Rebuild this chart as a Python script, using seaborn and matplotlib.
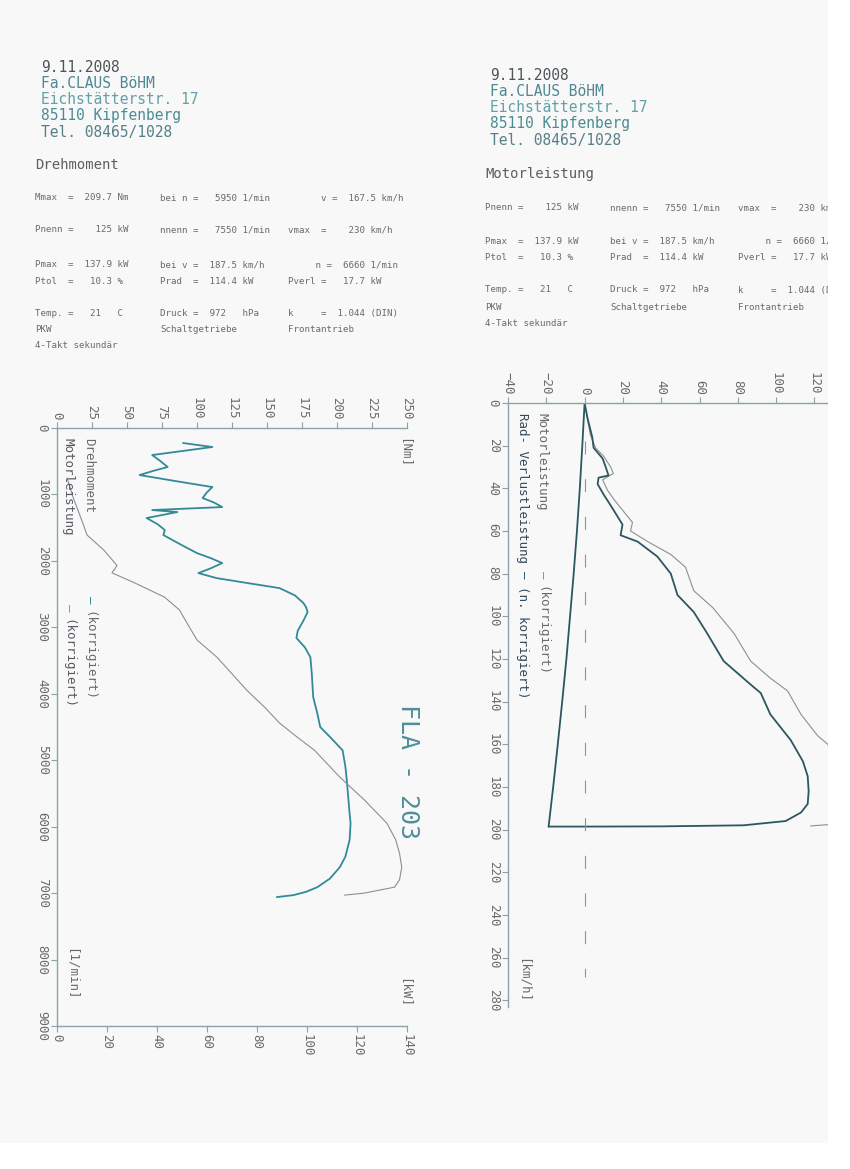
import matplotlib
matplotlib.use("Agg")
import matplotlib.pyplot as plt
import seaborn as sns
from matplotlib.patches import Rectangle

# ---------------- data: left chart (Drehmoment / Motorleistung vs rpm) ----------------
torque_rpm = [226, 286, 407, 500, 587, 650, 708, 800, 889, 970, 1054, 1120, 1190, 1235, 1265,
              1355, 1450, 1536, 1611, 1750, 1883, 1960, 2033, 2110, 2184, 2259, 2330, 2410,
              2520, 2635, 2700, 2770, 2900, 3050, 3160, 3300, 3450, 3700, 4050, 4300, 4500,
              4650, 4850, 5100, 5300, 5550, 5800, 5950, 6200, 6450, 6610, 6780, 6910, 6980,
              7030, 7060]
torque_nm = [90, 111, 68, 74, 79, 68, 59, 85, 111, 107, 104, 112, 118, 68, 86,
             64, 72, 77, 76, 88, 100, 110, 118, 110, 101, 114, 135, 159,
             170, 176, 178, 179, 176, 172, 171, 177, 181, 182, 183, 186, 188,
             195, 204, 206, 207, 208, 209, 209.7, 209, 206, 202, 195, 186, 178,
             169, 157]

power_rpm = [750, 1050, 1280, 1450, 1610, 1840, 2070, 2180, 2330, 2545, 2740, 3000, 3190,
             3450, 3700, 3950, 4200, 4440, 4650, 4850, 5050, 5250, 5600, 5950, 6200, 6400,
             6610, 6800, 6910, 7000, 7030]
power_kw = [4, 6.5, 8.8, 10.5, 12, 18.8, 24, 22, 31, 43, 49, 53, 56,
            64, 70, 76, 83, 89, 96, 103, 108, 113, 123, 132, 135.5, 137,
            137.9, 137, 135, 123, 115]

nm_ticks = [0, 25, 50, 75, 100, 125, 150, 175, 200, 225, 250]
rpm_ticks = [0, 1000, 2000, 3000, 4000, 5000, 6000, 7000, 8000, 9000]
kw_ticks_left = [0, 20, 40, 60, 80, 100, 120, 140]

# ---------------- data: right chart (power vs speed) ----------------
rad_kmh = [0, 7, 16, 21, 26, 30, 34, 35, 38, 43, 48, 57, 62, 65, 72, 80, 90, 98, 108, 121,
           132, 136, 146, 158, 168, 175, 182, 188, 192, 196, 198, 198.5, 198.6, 198.6]
rad_kw = [0, 1.5, 4, 4.7, 9.4, 11, 12.5, 7.3, 6.8, 10, 13.6, 19.8, 18.8, 27.7, 38, 45, 48.5,
          57, 64, 72.6, 86.7, 92, 97, 107.6, 114, 116.5, 117, 116.5, 113, 105, 83, 40, 0, -18.8]

loss_kmh = [198.6, 180, 160, 140, 120, 100, 80, 60, 40, 20, 5, 0]
loss_kw = [-18.8, -16.4, -14.0, -11.7, -9.5, -7.6, -5.7, -4.0, -2.5, -1.2, -0.3, 0]

motor_kmh = [0, 15, 21, 25, 30, 33, 36, 41, 46, 56, 60, 65, 71, 77, 88, 96, 108, 121, 129,
             135, 146, 156, 160, 170, 180, 187.5, 194, 197.5, 198.3]
motor_kw = [0, 3, 5.7, 10, 13.6, 15, 9.4, 12, 16, 25, 24, 33, 45, 52.7, 57, 67, 78, 86.7, 97,
            106, 113, 121.7, 127, 133, 137, 137.9, 136, 130, 118]

zero_line_kmh = [18, 269]
kw_ticks_right = [-40, -20, 0, 20, 40, 60, 80, 100, 120]
kmh_ticks = [0, 20, 40, 60, 80, 100, 120, 140, 160, 180, 200, 220, 240, 260, 280]

# ---------------- text ----------------
header_lines = ["9.11.2008", "Fa.CLAUS BöHM", "Eichstätterstr. 17", "85110 Kipfenberg",
                "Tel. 08465/1028"]
header_colors = ["#4c5558", "#4f8892", "#63a0a8", "#4a8c95", "#557f88"]

left_col1 = ["Mmax  =  209.7 Nm", "Pnenn =    125 kW", "Pmax  =  137.9 kW", "Ptol  =   10.3 %",
             "Temp. =   21   C", "PKW", "4-Takt sekundär"]
left_col2 = ["bei n =   5950 1/min", "nnenn =   7550 1/min", "bei v =  187.5 km/h",
             "Prad  =  114.4 kW", "Druck =  972   hPa", "Schaltgetriebe", ""]
left_col3 = ["      v =  167.5 km/h", "vmax  =    230 km/h", "     n =  6660 1/min",
             "Pverl =   17.7 kW", "k     =  1.044 (DIN)", "Frontantrieb", ""]

right_col1 = ["Pnenn =    125 kW", "Pmax  =  137.9 kW", "Ptol  =   10.3 %",
              "Temp. =   21   C", "PKW", "4-Takt sekundär"]
right_col2 = ["nnenn =   7550 1/min", "bei v =  187.5 km/h", "Prad  =  114.4 kW",
              "Druck =  972   hPa", "Schaltgetriebe", ""]
right_col3 = ["vmax  =    230 km/h", "     n =  6660 1/min", "Pverl =   17.7 kW",
              "k     =  1.044 (DIN)", "Frontantrieb", ""]

# ---------------- style ----------------
sns.set_theme(style="white")
plt.rcParams["font.family"] = ["DejaVu Sans Mono", "DejaVu Sans"]

W, H = 850, 1169
fig = plt.figure(figsize=(W / 100, H / 100), dpi=100)
fig.patch.set_facecolor("#f8f8f8")

GRAY_TXT = "#6a6a6a"
TEAL = "#338a97"
DARK = "#2c5660"
LGRAY = "#8c8f91"
AXC = "#8aa2a9"


def ftext(x, y, s, **kw):
    return fig.text(x / W, 1 - y / H, s, **kw)


# headers
for i, (s, c) in enumerate(zip(header_lines, header_colors)):
    ftext(41, 67 + 16.3 * i, s, fontsize=10.5, color=c, va="center", ha="left")
    ftext(490, 75 + 16.3 * i, s, fontsize=10.5, color=c, va="center", ha="left")
ftext(35, 165, "Drehmoment", fontsize=10, color="#5e5e5e", va="center")
ftext(485, 174, "Motorleistung", fontsize=10, color="#5e5e5e", va="center")

left_rows_y = [198, 230, 265, 281, 313, 329, 346]
for y, a, b, c in zip(left_rows_y, left_col1, left_col2, left_col3):
    ftext(35, y, a, fontsize=6.6, color=GRAY_TXT, va="center")
    ftext(160, y, b, fontsize=6.6, color=GRAY_TXT, va="center")
    ftext(288, y, c, fontsize=6.6, color=GRAY_TXT, va="center")

right_rows_y = [208, 241, 257, 290, 307, 324]
for y, a, b, c in zip(right_rows_y, right_col1, right_col2, right_col3):
    ftext(485, y, a, fontsize=6.6, color=GRAY_TXT, va="center")
    ftext(610, y, b, fontsize=6.6, color=GRAY_TXT, va="center")
    ftext(738, y, c, fontsize=6.6, color=GRAY_TXT, va="center")

# ---------------- left chart ----------------
axL = fig.add_axes([57 / W, 1 - 1026 / H, 350 / W, 598 / H])
axL.set_facecolor("none")
axL2 = axL.twiny()
axL2.set_facecolor("none")

sns.lineplot(x=torque_nm, y=torque_rpm, sort=False, estimator=None, ax=axL,
             color=TEAL, linewidth=1.3)
sns.lineplot(x=power_kw, y=power_rpm, sort=False, estimator=None, ax=axL2,
             color=LGRAY, linewidth=0.8)

# torque axis on top
axL.set_xlim(0, 250)
axL.set_ylim(9000, 0)
axL.xaxis.tick_top()
axL.xaxis.set_label_position("top")
axL.set_xticks(nm_ticks)
axL.set_yticks(rpm_ticks)
axL.tick_params(axis="x", top=True, bottom=False, labeltop=True, labelbottom=False,
                direction="out", length=4, width=0.8, color=AXC, pad=2,
                labelrotation=270, labelsize=9, labelcolor=GRAY_TXT)
axL.tick_params(axis="y", left=True, direction="out", length=4, width=0.8, color=AXC,
                pad=2, labelsize=9, labelcolor=GRAY_TXT)
for lab in axL.get_yticklabels():
    lab.set_rotation(270)
    lab.set_va("center")
for sp in ["right", "bottom"]:
    axL.spines[sp].set_visible(False)
for sp in ["top", "left"]:
    axL.spines[sp].set_color(AXC)
    axL.spines[sp].set_linewidth(1.0)
axL.set_xlabel("")
axL.set_ylabel("")

# power axis at bottom
axL2.set_xlim(0, 140)
axL2.set_ylim(9000, 0)
axL2.xaxis.tick_bottom()
axL2.xaxis.set_label_position("bottom")
axL2.set_xticks(kw_ticks_left)
axL2.tick_params(axis="x", bottom=True, top=False, labelbottom=True, labeltop=False,
                 direction="out", length=4, width=0.8, color=AXC, pad=2,
                 labelrotation=270, labelsize=9, labelcolor=GRAY_TXT)
for sp in ["right", "top", "left"]:
    axL2.spines[sp].set_visible(False)
axL2.spines["bottom"].set_color(AXC)
axL2.spines["bottom"].set_linewidth(1.0)
axL2.set_xlabel("")
axL2.set_ylabel("")

# ---------------- right chart ----------------
axR = fig.add_axes([508 / W, 1 - 1006.6 / H, 344.7 / W, 603.6 / H])
axR.set_facecolor("none")
sns.lineplot(x=motor_kw, y=motor_kmh, sort=False, estimator=None, ax=axR,
             color=LGRAY, linewidth=0.8)
sns.lineplot(x=rad_kw, y=rad_kmh, sort=False, estimator=None, ax=axR,
             color=DARK, linewidth=1.3)
sns.lineplot(x=loss_kw, y=loss_kmh, sort=False, estimator=None, ax=axR,
             color=DARK, linewidth=1.3)
axR.vlines(0, zero_line_kmh[0], zero_line_kmh[1], color="#8d9496", linewidth=0.8,
           linestyles=[(0, (11.7, 22.2))])
axR.set_xlim(-40, 140)
axR.set_ylim(283, 0)
axR.xaxis.tick_top()
axR.set_xticks(kw_ticks_right)
axR.set_yticks(kmh_ticks)
axR.tick_params(axis="x", top=True, bottom=False, labeltop=True, labelbottom=False,
                direction="out", length=4, width=0.8, color=AXC, pad=2,
                labelrotation=270, labelsize=9, labelcolor=GRAY_TXT)
axR.tick_params(axis="y", left=True, direction="out", length=4, width=0.8, color=AXC,
                pad=2, labelsize=9, labelcolor=GRAY_TXT)
for lab in axR.get_yticklabels():
    lab.set_rotation(270)
    lab.set_va("center")
for sp in ["right", "bottom"]:
    axR.spines[sp].set_visible(False)
for sp in ["top", "left"]:
    axR.spines[sp].set_color(AXC)
    axR.spines[sp].set_linewidth(1.0)
axR.set_xlabel("")
axR.set_ylabel("")

# ---------------- rotated annotations ----------------
CW = 0.602 * 9 * 100 / 72  # px per mono char at 9pt
rot = dict(rotation=270, ha="center", va="top", fontsize=9)

ftext(89, 438, "Drehmoment", color="#6a6a6a", **rot)
ftext(89, 438 + 21 * CW, "—", color=TEAL, **rot)
ftext(89, 438 + 23 * CW, "(korrigiert)", color="#6a6a6a", **rot)
ftext(68, 438, "Motorleistung", color="#555b60", **rot)
ftext(68, 438 + 22 * CW, "—", color=LGRAY, **rot)
ftext(68, 438 + 24 * CW, "(korrigiert)", color="#555b60", **rot)

ftext(542, 413, "Motorleistung", color="#6a6a6a", **rot)
ftext(542, 413 + 21 * CW, "—", color=LGRAY, **rot)
ftext(542, 413 + 23 * CW, "(korrigiert)", color="#6a6a6a", **rot)
ftext(523, 413, "Rad- Verlustleistung", color="#34475a", **rot)
ftext(523, 413 + 21 * CW, "—", color=DARK, **rot)
ftext(523, 413 + 23 * CW, "(n. korrigiert)", color="#34475a", **rot)

ftext(405, 438, "[Nm]", color=GRAY_TXT, **rot)
ftext(405, 978, "[kW]", color=GRAY_TXT, **rot)
ftext(71, 948, "[1/min]", color=GRAY_TXT, **rot)
ftext(523, 958, "[km/h]", color=GRAY_TXT, **rot)

ftext(408, 772, "FLA - 203", rotation=270, ha="center", va="center", fontsize=18,
      color="#4f8f9a")

# scanned page edges (right and bottom beyond the paper)
fig.add_artist(Rectangle((828 / W, 0), 1, 1, transform=fig.transFigure,
                         facecolor="white", edgecolor="none", zorder=100))
fig.add_artist(Rectangle((0, 0), 1, 1 - 1143 / H, transform=fig.transFigure,
                         facecolor="white", edgecolor="none", zorder=100))

fig.savefig("out.png", dpi=100, facecolor=fig.get_facecolor())
